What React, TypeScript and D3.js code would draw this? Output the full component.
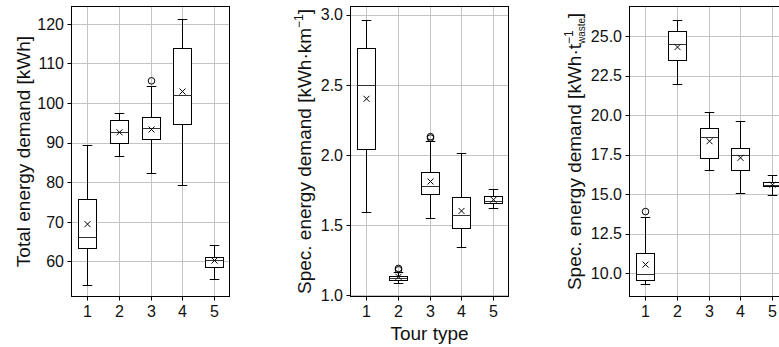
import * as d3 from 'd3'

// ── data ─────────────────────────────────────────────────────────────────────
const tourTypes = ['1', '2', '3', '4', '5']

// per tour type: [whiskerLow, q1, median, q3, whiskerHigh, mean]
const totalStats = [
  [54.1, 63.3, 66.2, 75.7, 89.5, 69.4],
  [86.7, 89.9, 92.6, 95.8, 97.4, 92.6],
  [82.3, 90.8, 93.6, 96.4, 104.3, 93.3],
  [79.3, 94.7, 102.0, 114.0, 121.1, 102.9],
  [55.6, 58.7, 60.4, 61.0, 64.1, 60.2],
]
const totalOutliers = [[], [], [105.6], [], []]
const totalTicks = [60, 70, 80, 90, 100, 110, 120]

const perKmStats = [
  [1.59, 2.04, 2.50, 2.76, 2.96, 2.40],
  [1.086, 1.107, 1.12, 1.138, 1.165, 1.13],
  [1.55, 1.72, 1.78, 1.88, 2.10, 1.81],
  [1.34, 1.48, 1.57, 1.70, 2.01, 1.60],
  [1.62, 1.66, 1.67, 1.71, 1.76, 1.68],
]
const perKmOutliers = [[], [1.19, 1.18], [2.13, 2.12], [], []]
const perKmTicks = [1.0, 1.5, 2.0, 2.5, 3.0]

const perTonStats = [
  [9.3, 9.6, 9.95, 11.3, 13.55, 10.55],
  [21.95, 23.5, 24.5, 25.3, 26.0, 24.3],
  [16.5, 17.3, 18.6, 19.2, 20.2, 18.35],
  [15.1, 16.55, 17.5, 17.95, 19.65, 17.3],
  [14.95, 15.5, 15.6, 15.8, 16.2, 15.6],
]
const perTonOutliers = [[13.9], [], [], [], []]
const perTonTicks = [10.0, 12.5, 15.0, 17.5, 20.0, 22.5, 25.0]

// ── layout ───────────────────────────────────────────────────────────────────
const W = 779
const H = 347
const TOP = 6
const PH = 291
const PW = 159
const GRID = '#c4c4c4'
const FONT = '"Liberation Sans", Arial, sans-serif'

type Panel = {
  left: number
  stats: number[][]
  outliers: number[][]
  ticks: number[]
  domain: [number, number]
  fmt: (v: number) => string
  labelX: number
  label: 'total' | 'km' | 'ton'
}

const panels: Panel[] = [
  { left: 71,  stats: totalStats,  outliers: totalOutliers,  ticks: totalTicks,  domain: [51, 124.5],
    fmt: v => String(v), labelX: 29.5, label: 'total' },
  { left: 350, stats: perKmStats,  outliers: perKmOutliers,  ticks: perKmTicks,  domain: [0.986, 3.062],
    fmt: v => v.toFixed(1), labelX: 310.5, label: 'km' },
  { left: 629, stats: perTonStats, outliers: perTonOutliers, ticks: perTonTicks, domain: [8.5, 26.9],
    fmt: v => v.toFixed(1), labelX: 580.5, label: 'ton' },
]

function YLabel({ kind }: { kind: Panel['label'] }) {
  if (kind === 'total') return <>Total energy demand [kWh]</>
  if (kind === 'km') return (
    <>
      Spec. energy demand [kWh·km
      <tspan dy={-8} fontSize={12}>−1</tspan>
      <tspan dy={8}>]</tspan>
    </>
  )
  return (
    <>
      Spec. energy demand [kWh·t
      <tspan dy={4} fontSize={10}>waste</tspan>
      <tspan dx={-26} dy={-12} fontSize={12}>−1</tspan>
      <tspan dx={12} dy={8}>]</tspan>
    </>
  )
}

function BoxPanel({ p }: { p: Panel }) {
  const x = d3.scaleBand<string>().domain(tourTypes).range([0, PW]).padding(0)
  const cx = (t: string) => Math.round(x(t)! + x.bandwidth() / 2) + 0.5
  const y = d3.scaleLinear().domain(p.domain).range([PH, 0])
  const yy = (v: number) => Math.round(y(v)) + 0.5
  const bw = x.bandwidth() * 0.6
  const cw = bw / 2

  return (
    <g transform={`translate(${p.left},${TOP})`}>
      {/* grid */}
      {p.ticks.map(t => (
        <line key={'h' + t} x1={0} x2={PW} y1={yy(t)} y2={yy(t)} stroke={GRID} strokeWidth={1} />
      ))}
      {tourTypes.map(t => (
        <line key={'v' + t} x1={cx(t)} x2={cx(t)} y1={0} y2={PH} stroke={GRID} strokeWidth={1} />
      ))}

      {/* boxes */}
      {tourTypes.map((t, i) => {
        const [lo, q1, med, q3, hi, mean] = p.stats[i]
        const c = cx(t)
        const bx0 = Math.round(c - bw / 2) + 0.5
        const bx1 = Math.round(c + bw / 2) - 0.5
        return (
          <g key={t} stroke="#000" strokeWidth={1} fill="none">
            <line x1={c} x2={c} y1={yy(q3)} y2={yy(hi)} />
            <line x1={c} x2={c} y1={yy(q1)} y2={yy(lo)} />
            <line x1={c - cw / 2} x2={c + cw / 2} y1={yy(hi)} y2={yy(hi)} />
            <line x1={c - cw / 2} x2={c + cw / 2} y1={yy(lo)} y2={yy(lo)} />
            <rect x={bx0} y={yy(q3)} width={bx1 - bx0} height={yy(q1) - yy(q3)} fill="#fff" />
            <line x1={bx0} x2={bx1} y1={yy(med)} y2={yy(med)} stroke="#333" />
            <path d={`M${c - 3},${y(mean) - 3}L${c + 3},${y(mean) + 3}M${c - 3},${y(mean) + 3}L${c + 3},${y(mean) - 3}`} />
            {p.outliers[i].map((o, j) => (
              <circle key={j} cx={c} cy={y(o)} r={3.3} />
            ))}
          </g>
        )
      })}

      {/* frame */}
      <rect x={0.5} y={0.5} width={PW - 1} height={PH - 1} fill="none" stroke="#000" strokeWidth={1} />

      {/* y ticks */}
      {p.ticks.map(t => (
        <g key={'yt' + t}>
          <line x1={-3.5} x2={0} y1={yy(t)} y2={yy(t)} stroke="#000" />
          <text x={-7} y={y(t)} dy="0.36em" textAnchor="end" fontSize={16} fill="#111">{p.fmt(t)}</text>
        </g>
      ))}
      {/* x ticks */}
      {tourTypes.map(t => (
        <g key={'xt' + t}>
          <line x1={cx(t)} x2={cx(t)} y1={PH} y2={PH + 3.5} stroke="#000" />
          <text x={cx(t)} y={PH + 20} textAnchor="middle" fontSize={16} fill="#111">{t}</text>
        </g>
      ))}
    </g>
  )
}

export default function App() {
  return (
    <div style={{ position: 'absolute', left: 0, top: 0, width: W, height: H, overflow: 'hidden', background: '#fff' }}>
      <svg width={W} height={H} viewBox={`0 0 ${W} ${H}`} style={{ display: 'block', fontFamily: FONT }}>
        <rect width={W} height={H} fill="#fff" />
        {panels.map((p, i) => <BoxPanel key={i} p={p} />)}
        {panels.map((p, i) => (
          <text key={'yl' + i}
            transform={`translate(${p.labelX},${TOP + PH / 2}) rotate(-90)`}
            textAnchor="middle" fontSize={19} fill="#111">
            <YLabel kind={p.label} />
          </text>
        ))}
        <text x={panels[1].left + PW / 2} y={340} textAnchor="middle" fontSize={19} fill="#111">Tour type</text>
      </svg>
    </div>
  )
}
